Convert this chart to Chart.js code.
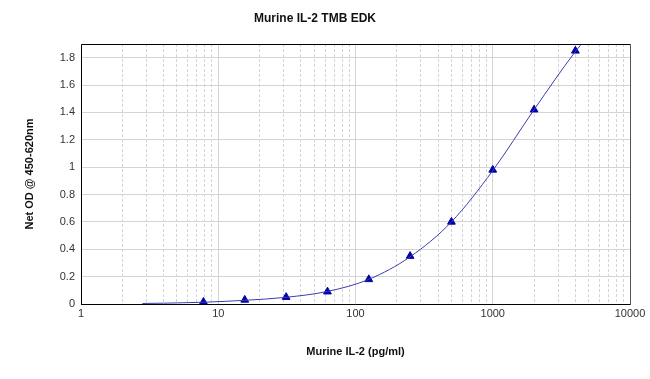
<!DOCTYPE html>
<html>
<head>
<meta charset="utf-8">
<script src="https://cdn.jsdelivr.net/npm/chart.js@4"></script>
<style>
html,body{margin:0;padding:0;background:#fff;}
#wrap{width:650px;height:379px;}
</style>
</head>
<body>
<div id="wrap"><canvas id="c" width="650" height="379"></canvas></div>
<script>
// Standard points (pg/ml) and Net OD
const concentrations = [7.8, 15.6, 31.25, 62.5, 125, 250, 500, 1000, 2000, 4000];
const odValues = [0.015, 0.03, 0.05, 0.09, 0.18, 0.35, 0.60, 0.98, 1.42, 1.85];
// Fitted curve
const curveX = [2.8, 4, 5.5, 7.8, 15.6, 31.25, 62.5, 125, 250, 500, 1000, 2000, 4000, 4700];
const curveY = [0.004, 0.006, 0.009, 0.013, 0.027, 0.049, 0.092, 0.18, 0.345, 0.60, 0.975, 1.42, 1.845, 1.93];
// Axis ticks
const xTickValues = [1,2,3,4,5,6,7,8,9,10,20,30,40,50,60,70,80,90,100,200,300,400,500,600,700,800,900,1000,2000,3000,4000,5000,6000,7000,8000,9000,10000];
const xTickLabels = ["1","10","100","1000","10000"];
const yTickValues = [0,0.2,0.4,0.6,0.8,1,1.2,1.4,1.6,1.8];
const yTickLabels = ["0","0.2","0.4","0.6","0.8","1","1.2","1.4","1.6","1.8"];

const boxPlugin = {
  id: 'box',
  afterDatasetsDraw(chart) {
    const {ctx, chartArea: a} = chart;
    ctx.save();
    ctx.lineWidth = 1;
    ctx.strokeStyle = '#000';
    ctx.beginPath();
    ctx.moveTo(a.left + 0.5, a.bottom + 0.5);
    ctx.lineTo(a.left + 0.5, a.top + 0.5);
    ctx.lineTo(a.right + 0.5, a.top + 0.5);
    ctx.moveTo(a.left, a.bottom + 0.5);
    ctx.lineTo(a.right + 0.5, a.bottom + 0.5);
    ctx.stroke();
    ctx.strokeStyle = '#555';
    ctx.beginPath();
    ctx.moveTo(a.right + 0.5, a.top);
    ctx.lineTo(a.right + 0.5, a.bottom + 1);
    ctx.stroke();
    ctx.restore();
  }
};

const font = 'Liberation Sans, Arial, sans-serif';

new Chart(document.getElementById('c'), {
  type: 'scatter',
  data: {
    datasets: [
      {
        label: 'curve',
        data: curveX.map((x, i) => ({x, y: curveY[i]})),
        showLine: true,
        borderColor: '#3c3cb0',
        borderWidth: 1,
        pointRadius: 0,
        cubicInterpolationMode: 'monotone',
        clip: {left: 0, right: 0, top: 0, bottom: 2}
      },
      {
        label: 'standards',
        data: concentrations.map((x, i) => ({x, y: odValues[i]})),
        showLine: false,
        pointStyle: 'triangle',
        pointRadius: 4.5,
        backgroundColor: '#0000a8',
        borderColor: '#0000a8',
        borderWidth: 1
      }
    ]
  },
  options: {
    responsive: false,
    animation: false,
    layout: {padding: {left: 0, right: 20, top: 0, bottom: 0}},
    plugins: {
      legend: {display: false},
      tooltip: {enabled: false},
      title: {
        display: true,
        text: 'Murine IL-2 TMB EDK',
        color: '#111',
        font: {family: font, size: 12, weight: 'bold'},
        padding: {top: 11, bottom: 18.6}
      }
    },
    scales: {
      x: {
        type: 'logarithmic',
        min: 1,
        max: 10000,
        afterFit(s) { s.height = 75; },
        afterBuildTicks(s) { s.ticks = xTickValues.map(v => ({value: v})); },
        ticks: {
          autoSkip: false,
          maxRotation: 0,
          padding: 3,
          color: '#333',
          font: {family: font, size: 11},
          callback(v) {
            const idx = [1,10,100,1000,10000].indexOf(v);
            return idx >= 0 ? xTickLabels[idx] : '';
          }
        },
        grid: {
          drawTicks: false,
          color: '#d4d4d4',
          lineWidth: 1
        },
        border: {
          display: false,
          dash(ctx) {
            if (!ctx.tick) return [];
            const l = Math.log10(ctx.tick.value);
            return Math.abs(l - Math.round(l)) < 1e-9 ? [] : [3, 2];
          }
        },
        title: {
          display: true,
          text: 'Murine IL-2 (pg/ml)',
          color: '#111',
          font: {family: font, size: 11, weight: 'bold'},
          padding: {top: 0, bottom: 20}
        }
      },
      y: {
        min: 0,
        max: 1.9,
        afterFit(s) { s.width = 81; },
        afterBuildTicks(s) { s.ticks = yTickValues.map(v => ({value: v})); },
        ticks: {
          padding: 6,
          color: '#333',
          font: {family: font, size: 11},
          callback(v) {
            const idx = yTickValues.findIndex(t => Math.abs(t - v) < 1e-9);
            return idx >= 0 ? yTickLabels[idx] : '';
          }
        },
        grid: {
          drawTicks: false,
          color: '#d4d4d4',
          lineWidth: 1
        },
        border: {display: false},
        title: {
          display: true,
          text: 'Net OD @ 450-620nm',
          color: '#111',
          font: {family: font, size: 11, weight: 'bold'},
          padding: {top: 23, bottom: 0}
        }
      }
    }
  },
  plugins: [boxPlugin]
});
</script>
</body>
</html>
